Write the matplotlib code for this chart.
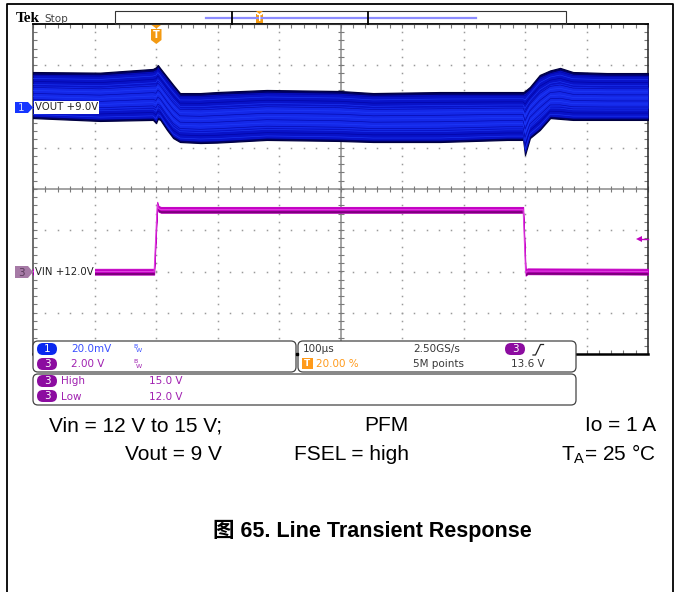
import numpy as np
import matplotlib.pyplot as plt
from matplotlib.patches import FancyBboxPatch, Rectangle, Polygon

plt.rcParams['mathtext.fontset'] = 'custom'
plt.rcParams['mathtext.rm'] = 'Liberation Sans'

W, H = 681, 592

# scope settings
t_start, t_stop = -200, 800      # us, 100 us/div, trigger at 20 %
vout_div = 20.0                  # mV/div, VOUT offset 9.0 V
vin_ref, vin_div = 12.0, 2.0     # V, V/div
trig_level = 13.6

# VOUT envelope, mV around 9.0 V
vout_t = [-200, -91, -5, 0, 3, 7, 18, 28, 39, 72, 99, 180, 299, 353, 462, 571,
          597, 600, 608, 624, 641, 657, 678, 733, 800]
vout_hi = [16.7, 16.4, 18.2, 19.0, 20.1, 18.5, 14.3, 10.5, 6.5, 6.5, 7.0, 8.0, 7.5,
           6.5, 7.0, 7.0, 7.0, 7.5, 9.5, 15.3, 17.5, 18.7, 16.7, 16.2, 16.2]
vout_lo = [-5.6, -7.0, -6.5, -8.0, -6.0, -6.5, -11.4, -15.3, -17.2, -17.7, -17.5,
           -16.2, -16.7, -17.2, -17.2, -16.2, -16.2, -23.5, -15.3, -11.4, -5.6,
           -6.0, -6.5, -6.5, -6.5]

# VIN trace, V
vin_t = [-200, -3, 2, 4, 8, 597, 601, 604, 800]
vin_v = [12.0, 12.0, 15.25, 15.05, 15.0, 15.0, 11.95, 12.02, 12.0]

ch_scales = ['20.0mV', '2.00 V']
horiz = ['100\u00b5s', '2.50GS/s', '20.00 %', '5M points', '13.6 V']
meas = [('High', '15.0 V'), ('Low', '12.0 V')]
cond_rows = [['Vin = 12 V to 15 V;', 'PFM', 'Io = 1 A'],
             ['Vout = 9 V', 'FSEL = high', r'T$_\mathrm{A}$= 25 ' + '\u00b0C']]
caption = '\u56fe 65. Line Transient Response'

fig = plt.figure(figsize=(W / 100, H / 100), dpi=100)

# ---- scope graticule
gl, gr, gt, gb = 33, 648, 24, 354
ax = fig.add_axes([gl / W, 1 - gb / H, (gr - gl) / W, (gb - gt) / H])
ax.set_xlim(t_start, t_stop)
ax.set_ylim(-4, 4)
ax.axis('off')

minor_t = np.arange(t_start, t_stop + 1, 20)
minor_d = np.arange(-4, 4.01, 0.2)
dot = dict(ls='none', marker='s', ms=1.1, mew=0, color='#9a9a9a')
for d in [-3, -2, -1, 1, 2, 3]:
    ax.plot(minor_t, np.full(len(minor_t), d), **dot)
for t in range(-100, 800, 100):
    if t != 300:
        ax.plot(np.full(len(minor_d), t), minor_d, **dot)
ax.axhline(0, color='#8a8a8a', lw=1.1)
ax.axvline(300, color='#8a8a8a', lw=1.1)
tk = dict(ls='none', color='#7a7a7a', mew=0.8, clip_on=False)
ax.plot(minor_t, np.zeros(len(minor_t)), marker='|', ms=5, **tk)
ax.plot(np.full(len(minor_d), 300), minor_d, marker='_', ms=5, **tk)
ax.plot(np.full(len(minor_d), t_start), minor_d, marker=1, ms=3, **tk)
ax.plot(np.full(len(minor_d), t_stop), minor_d, marker=0, ms=3, **tk)
ax.plot(minor_t, np.full(len(minor_t), 4), marker=3, ms=3, **tk)
ax.plot(minor_t, np.full(len(minor_t), -4), marker=2, ms=3, **tk)
ax.plot([t_start, t_start], [-4, 4], color='#555555', lw=1.2, clip_on=False)
ax.plot([t_stop, t_stop], [-4, 4], color='#333333', lw=1.2, clip_on=False)
ax.plot([t_start, t_stop], [4, 4], color='black', lw=1.3, clip_on=False)
ax.plot([t_start, t_stop], [-4, -4], color='black', lw=1.8, clip_on=False)

# ---- VOUT (ch1)
av = ax.twinx()
av.set_ylim(-6 * vout_div, 2 * vout_div)
av.axis('off')
t = np.array(vout_t)
hi = np.array(vout_hi)
lo = np.array(vout_lo)
w = hi - lo
av.fill_between(t, lo, hi, color='#000068', lw=0.9, ec='#000040')
av.fill_between(t, lo + 0.9, hi - 1.1, color='#0812c8', lw=0)
av.fill_between(t, lo + 0.25 * w, hi - 0.3 * w, color='#1428e8', lw=0)
for k, f in enumerate(np.arange(0.08, 0.95, 0.065)):
    av.plot(t, lo + f * w, color='#00009a' if k % 2 else '#2040ff', lw=0.45, alpha=0.8)

# ---- VIN (ch3)
ai = ax.twinx()
ai.set_ylim(vin_ref - 2 * vin_div, vin_ref + 6 * vin_div)
ai.axis('off')
vt = np.array(vin_t)
vv = np.array(vin_v)
ai.fill_between(vt, vv - 0.15, vv + 0.13, color='#c400c4', lw=0.7, ec='#c400c4')
ai.fill_between(vt, vv - 0.15, vv - 0.05, color='#7c007c', lw=0)
ai.plot(vt, vv, color='#e040e0', lw=0.8)
ytr = ai.get_yaxis_transform()
ai.plot([0.986, 1.0], [trig_level] * 2, color='#c000c0', lw=1, transform=ytr, clip_on=False)
ai.plot([0.986], [trig_level], marker='<', ms=5, mew=0, color='#c000c0', transform=ytr,
        clip_on=False)

# ---- screen furniture in pixel coordinates
ov = fig.add_axes([0, 0, 1, 1])
ov.set_xlim(0, W)
ov.set_ylim(H, 0)
ov.axis('off')

ov.plot([7, 7, 673, 673], [H, 4, 4, H], color='black', lw=1.3)

ov.text(16, 22.5, 'Tek', family='Liberation Serif', weight='bold', fontsize=11, va='baseline')
ov.text(44, 22, 'Stop', family='DejaVu Sans', fontsize=7.5, color='#444444', va='baseline')
ov.add_patch(Rectangle((115, 11), 451, 13, fill=False, ec='#333333', lw=0.8))
ov.plot([206, 476], [17.5, 17.5], color='#8c8cff', lw=1.6)
for bx in [232, 368]:
    ov.plot([bx, bx], [11.5, 23.5], color='black', lw=1.3)
ov.add_patch(Rectangle((256, 14), 7, 9, fc='#f39a12', ec='none'))
ov.add_patch(Polygon([(256, 11), (263, 11), (259.5, 14)], fc='#f39a12', ec='none'))
ov.text(259.5, 18.8, 'T', color='white', fontsize=5.5, weight='bold', ha='center', va='center')

# trigger position marker
ov.add_patch(Polygon([(151.5, 25), (161, 25), (156.3, 28.5)], fc='#f39a12', ec='none'))
ov.add_patch(Polygon([(151, 29), (161.5, 29), (161.5, 40), (156.3, 44), (151, 40)],
                     fc='#f39a12', ec='none'))
ov.text(156.3, 35.5, 'T', color='white', fontsize=7, weight='bold', ha='center', va='center')

# channel markers and labels
ov.add_patch(Polygon([(15, 102), (28, 102), (33, 107.5), (28, 113), (15, 113)],
                     fc='#1535ff', ec='none'))
ov.text(21, 108, '1', color='#d0d8ff', fontsize=7.5, ha='center', va='center')
ov.text(35, 107.5, 'VOUT +9.0V', fontsize=7.3, color='#222222', va='center',
        bbox=dict(fc='white', ec='none', pad=0.8))
ov.add_patch(Polygon([(15, 266), (28, 266), (33, 272), (28, 278), (15, 278)],
                     fc='#a67aa6', ec='none'))
ov.text(21, 272.5, '3', color='#5a3a5a', fontsize=7.5, ha='center', va='center')
ov.text(35, 272, 'VIN +12.0V', fontsize=7.3, color='#222222', va='center',
        bbox=dict(fc='white', ec='none', pad=0.8))


def rbox(x0, y0, x1, y1):
    ov.add_patch(FancyBboxPatch((x0, y0), x1 - x0, y1 - y0,
                                boxstyle='round,pad=0,rounding_size=5',
                                fc='white', ec='#444444', lw=0.9))


def pill(x, y, color, label):
    ov.add_patch(FancyBboxPatch((x, y), 20, 12, boxstyle='round,pad=0,rounding_size=6',
                                fc=color, ec='none'))
    ov.text(x + 10, y + 6.3, label, color='white', fontsize=7.5, ha='center', va='center')


blue, purple, orange, grey = '#0a28f0', '#8c0ca0', '#ff9a1a', '#383838'
ui = dict(fontsize=7.5, va='center', family='DejaVu Sans')

rbox(33, 341, 296, 372)
rbox(298, 341, 576, 372)
rbox(33, 374, 576, 405)
ov.plot([297], [354], marker='s', ms=1.5, color='black')

pill(37, 343, blue, '1')
pill(37, 358, purple, '3')
ov.text(71, 349, ch_scales[0], color='#3a50ff', **ui)
ov.text(71, 364, ch_scales[1], color='#a020b0', **ui)
for yy, c in [(349, '#3a50ff'), (364, '#a020b0')]:
    ov.text(133, yy - 2.5, 'B', color=c, fontsize=4.5, va='center')
    ov.text(136, yy + 2, 'W', color=c, fontsize=4.5, va='center')

ov.text(303, 349, horiz[0], color=grey, **ui)
ov.text(413, 349, horiz[1], color=grey, **ui)
pill(505, 343, purple, '3')
ov.plot([533, 535.5, 540.5, 543.5], [355, 355, 344.5, 344.5], color='#222222', lw=0.9)
ov.add_patch(Rectangle((302, 358), 11, 11, fc=orange, ec='none'))
ov.text(307.5, 363.8, 'T', color='white', fontsize=6.5, weight='bold', ha='center', va='center')
ov.text(316, 364, horiz[2], color=orange, **ui)
ov.text(413, 364, horiz[3], color=grey, **ui)
ov.text(511, 364, horiz[4], color=grey, **ui)

for i, (name, val) in enumerate(meas):
    yy = 375 + 15 * i
    pill(37, yy, purple, '3')
    ov.text(61, yy + 6.5, name, color='#a020b0', **ui)
    ov.text(149, yy + 6.5, val, color='#a020b0', **ui)

# ---- test conditions and caption
col_right = [222, 409, 656]
for row, yb in zip(cond_rows, [431, 460]):
    for s, xr in zip(row, col_right):
        ov.text(xr, yb, s, family='Liberation Sans', fontsize=15, ha='right', va='baseline')

ov.text(372, 537, caption, family=['Liberation Sans', 'Noto Sans CJK SC'], weight='bold',
        fontsize=15.5, ha='center', va='baseline')

fig.savefig('out.png', dpi=100)
